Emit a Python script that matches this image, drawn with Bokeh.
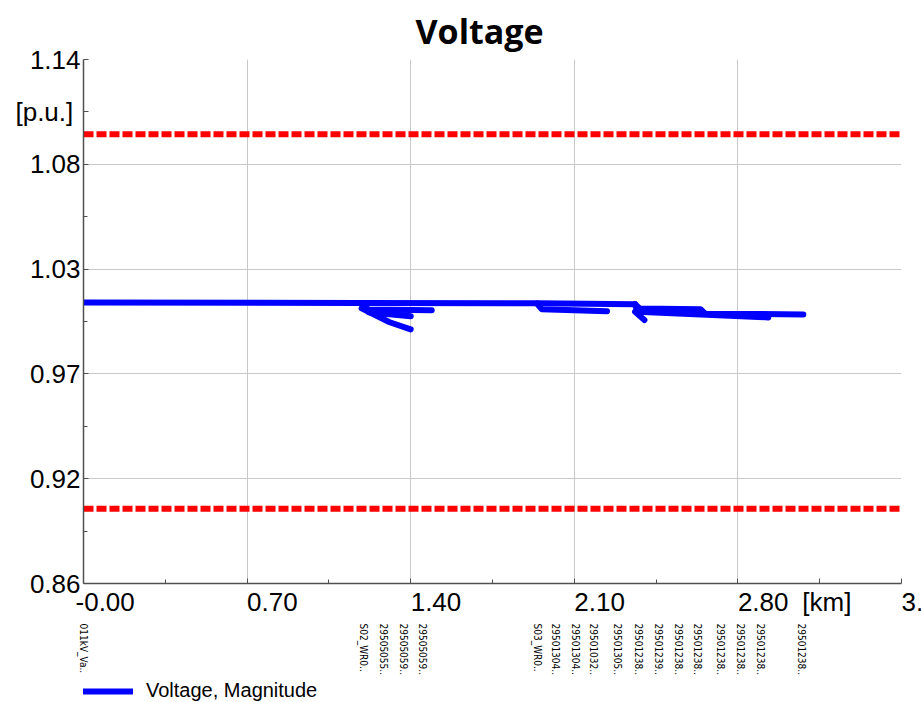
import math
from bokeh.plotting import figure
from bokeh.layouts import column
from bokeh.models import (Range1d, FixedTicker, NumeralTickFormatter, LinearAxis,
                          Legend, LegendItem)
from bokeh.embed import file_html
from bokeh.resources import INLINE

title_text = "Voltage"
x_unit = "[km]"
y_unit = "[p.u.]"
series_name = "Voltage, Magnitude"

x_ticks = [0.0, 0.7, 1.4, 2.1, 2.8, 3.5]
x_tick_labels = ["-0.00", "0.70", "1.40", "2.10", "2.80", "3.50"]
x_minor = [0.35, 1.05, 1.75, 2.45]
x_unit_pos = 3.15
y_ticks = [0.86, 0.916, 0.972, 1.028, 1.084, 1.14]
y_tick_labels = ["0.86", "0.92", "0.97", "1.03", "1.08", "1.14"]
y_minor = [0.888, 0.944, 1.0, 1.056]
y_unit_pos = 1.112

limit_km = [0.0, 3.5]
upper_limit = [1.10, 1.10]
lower_limit = [0.90, 0.90]

# feeder sections (distance km, voltage p.u.)
main_km = [0.0, 1.19, 1.94, 2.36]
main_pu = [1.0102, 1.0099, 1.0097, 1.0092]
br1_km = [1.19, 1.22, 1.49]
br1_pu = [1.0094, 1.0064, 1.0060]
br2_km = [1.19, 1.22, 1.40]
br2_pu = [1.0094, 1.0050, 1.0028]
br3_km = [1.19, 1.31, 1.40]
br3_pu = [1.0070, 0.9996, 0.9958]
br4_km = [1.94, 1.96, 2.24]
br4_pu = [1.0097, 1.0066, 1.0055]
br5_km = [2.36, 2.38, 2.64, 2.66, 3.08]
br5_pu = [1.0092, 1.0070, 1.0066, 1.0042, 1.0038]
br6_km = [2.36, 2.37, 2.93]
br6_pu = [1.0092, 1.0052, 1.0022]
br7_km = [2.36, 2.40]
br7_pu = [1.0052, 1.0008]

node_km = [0.0, 1.199, 1.284, 1.370, 1.451, 1.944, 2.021, 2.106, 2.183, 2.286,
           2.376, 2.462, 2.547, 2.629, 2.727, 2.813, 2.898, 3.070]
node_names = ["011kV_Va..", "S02_WR0..", "29505055..", "29505059..", "29505059..",
              "S03_WR0..", "29501304..", "29501304..", "29501032..", "29501305..",
              "29501238..", "29501239..", "29501238..", "29501238..", "29501238..",
              "29501238..", "29501238..", "29501238.."]

xs = [main_km, br1_km, br2_km, br3_km, br4_km, br5_km, br6_km, br7_km]
ys = [main_pu, br1_pu, br2_pu, br3_pu, br4_pu, br5_pu, br6_pu, br7_pu]

FONT = "'Liberation Sans', Arial, sans-serif"
NARROW = "'Liberation Sans Narrow', 'Arial Narrow', 'DejaVu Sans Condensed', sans-serif"
NB = "\u00a0"

W, H_TOP, H_BOT = 921, 679, 23
B_LEFT, B_RIGHT, B_TOP, B_BOTTOM = 83, 20, 59, 96


def left_start(label):
    # pad so that a centred label visually starts at its tick (as in the reference)
    if label.startswith("-"):
        return NB * 6 + label
    return NB * 7 + label


p = figure(width=W, height=H_TOP, x_range=Range1d(0, 3.5), y_range=Range1d(0.86, 1.14),
           output_backend="svg", toolbar_location=None,
           min_border_left=B_LEFT, min_border_right=B_RIGHT,
           min_border_top=B_TOP, min_border_bottom=B_BOTTOM)
p.outline_line_color = None
p.background_fill_color = "white"

p.title.text = title_text
p.title.text_font = "Open Sans"
p.title.text_font_style = "bold"
p.title.text_font_size = "34px"
p.title.text_color = "black"
p.title.align = "left"
p.title.offset = 332
p.title.standoff = 11

for ax in (p.xaxis[0], p.yaxis[0]):
    ax.axis_line_color = "#505050"
    ax.axis_line_width = 1.5
    ax.major_tick_line_color = "#505050"
    ax.minor_tick_line_color = "#505050"
    ax.major_tick_in = 5
    ax.major_tick_out = 0
    ax.minor_tick_in = 4
    ax.minor_tick_out = 0
    ax.major_label_text_font = FONT
    ax.major_label_text_font_size = "26px"
    ax.major_label_text_color = "black"

xlab = {t: left_start(l) for t, l in zip(x_ticks, x_tick_labels)}
xlab[x_unit_pos] = NB * 2 + x_unit
p.xaxis.ticker = FixedTicker(ticks=x_ticks + [x_unit_pos], minor_ticks=x_minor)
p.xaxis.formatter = NumeralTickFormatter(format="0.00")
p.xaxis.major_label_overrides = xlab
p.xaxis.major_label_standoff = 3

ylab = dict(zip(y_ticks, y_tick_labels))
ylab[y_unit_pos] = y_unit + NB
p.yaxis.ticker = FixedTicker(ticks=y_ticks + [y_unit_pos], minor_ticks=y_minor)
p.yaxis.formatter = NumeralTickFormatter(format="0.00")
p.yaxis.major_label_overrides = ylab
p.yaxis.major_label_standoff = 3

p.xgrid.ticker = FixedTicker(ticks=x_ticks)
p.ygrid.ticker = FixedTicker(ticks=y_ticks)
p.grid.grid_line_color = "#c8c8c8"
p.grid.grid_line_width = 1

# node-name axis below the km axis
node_axis = LinearAxis(ticker=FixedTicker(ticks=node_km, minor_ticks=[]),
                       major_label_overrides=dict(zip(node_km, node_names)),
                       major_label_orientation="vertical",
                       major_label_text_font=NARROW, major_label_text_font_size="10px",
                       major_label_text_color="black", major_label_standoff=4,
                       axis_line_color=None, major_tick_line_color=None,
                       minor_tick_line_color=None, major_tick_in=0, major_tick_out=0)
p.add_layout(node_axis, "below")

# limit lines
p.line(limit_km, upper_limit, line_color="#ff0000", line_width=6,
       line_dash="10 3", line_cap="butt")
p.line(limit_km, lower_limit, line_color="#ff0000", line_width=6,
       line_dash="10 3", line_cap="butt")

r = p.multi_line(xs, ys, line_color="#0000ff", line_width=6,
                 line_cap="round", line_join="round")

# ---- legend strip below the chart ----
p2 = figure(width=W, height=H_BOT, x_range=p.x_range, y_range=Range1d(0, 1),
            x_axis_type=None, y_axis_type=None,
            output_backend="svg", toolbar_location=None,
            min_border_left=B_LEFT, min_border_right=B_RIGHT,
            min_border_top=0, min_border_bottom=0)
p2.outline_line_color = None
p2.grid.visible = False

proxy = p2.line(x=[float("nan")], y=[float("nan")], line_color="#0000ff",
                line_width=6, line_cap="round")
legend = Legend(items=[LegendItem(label=series_name, renderers=[proxy])],
                location=(0, 0), glyph_width=50, glyph_height=20,
                label_standoff=13, padding=0, margin=0, spacing=0,
                label_text_font=FONT, label_text_font_size="20px",
                label_text_color="black",
                border_line_alpha=0, background_fill_alpha=0)
p2.add_layout(legend)

layout = column(p, p2, spacing=0)
open("out.html", "w").write(file_html(layout, INLINE))
